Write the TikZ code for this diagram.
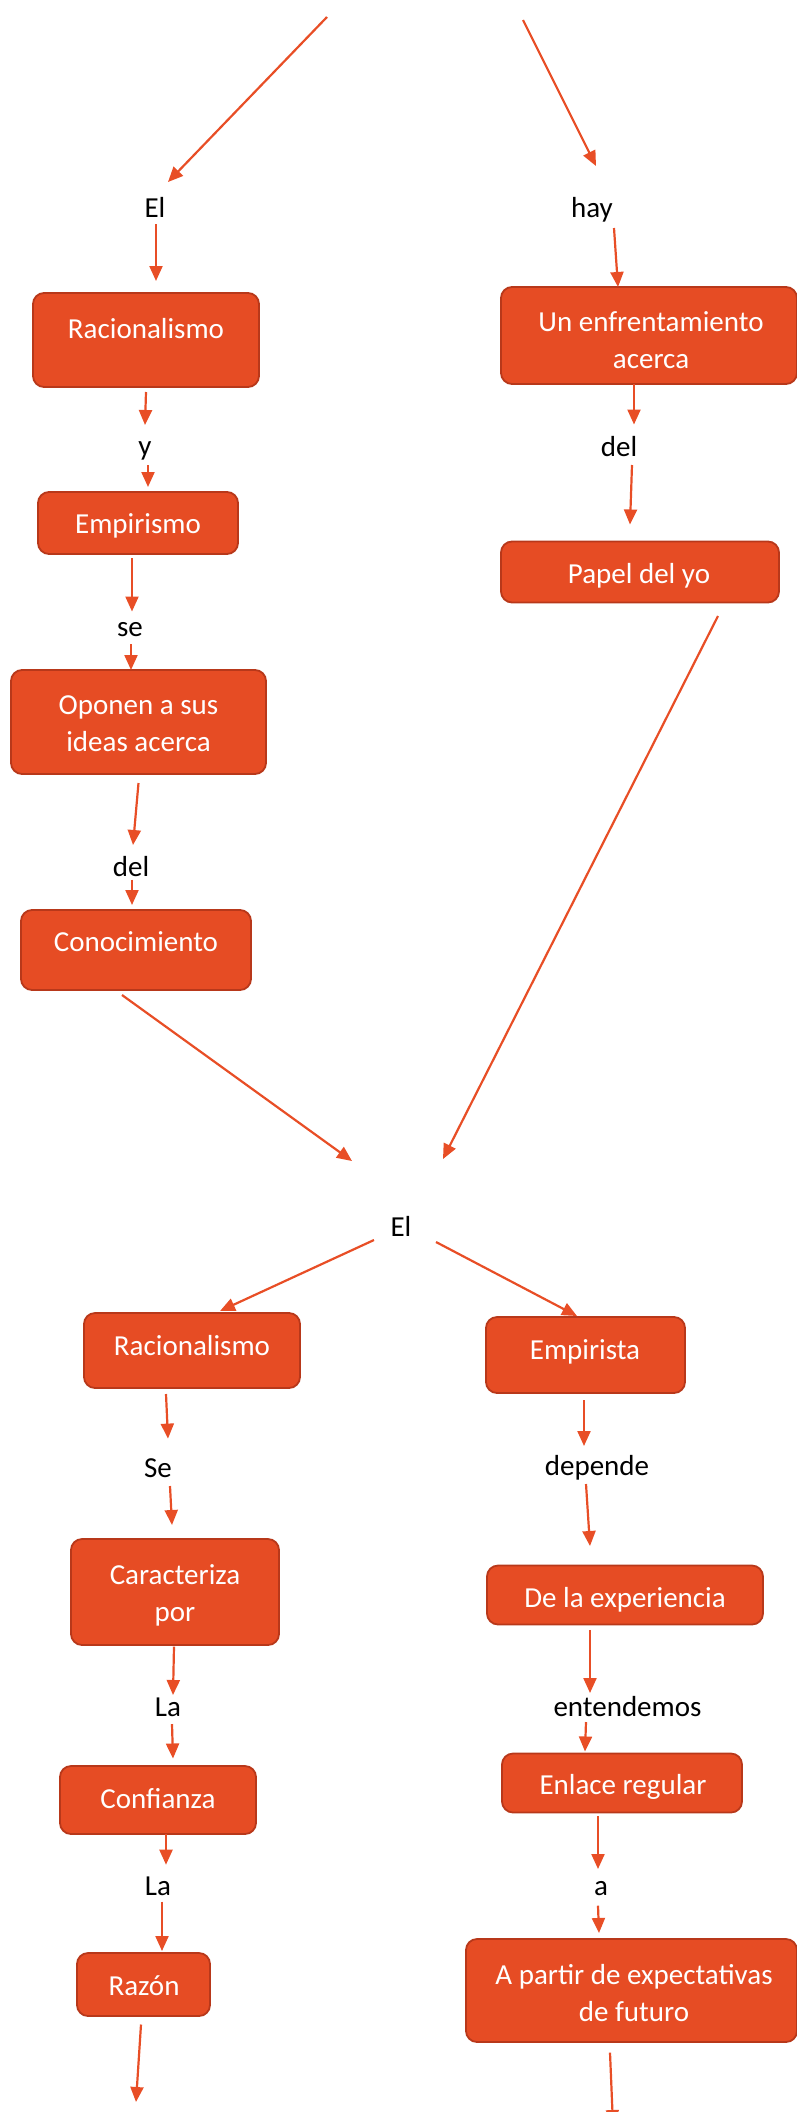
\documentclass[tikz,border=0pt]{standalone}
\usepackage{fontspec}
\setmainfont{Carlito}
\usetikzlibrary{arrows.meta}
\definecolor{boxfill}{RGB}{230,76,36}
\definecolor{boxline}{RGB}{184,56,26}
\definecolor{arrowc}{RGB}{232,78,38}
\newcommand\lblfont{\fontsize{29}{37}\selectfont}
\tikzset{
  box/.style={draw=boxline, fill=boxfill, line width=1.8pt, rounded corners=11pt, inner sep=0pt, outer sep=0pt},
  btext/.style={text=white, anchor=base, inner sep=0pt, font=\lblfont, align=center},
  lab/.style={text=black, anchor=base, inner sep=0pt, font=\lblfont},
  arr/.style={draw=arrowc, line width=2.2pt, -{Triangle[length=15pt,width=13pt]}}
}
\begin{document}
\begin{tikzpicture}[x=1pt,y=-1pt]
\useasboundingbox (0,0) rectangle (797,2112);
% free ends
\coordinate (tl) at (327,17);
\coordinate (tr) at (523,20);
\coordinate (bl) at (136,2102);
\coordinate (br) at (613,2125);
% boxes
\node[box, minimum width=226pt, minimum height=94pt] (rac1) at (146,340) {};
\node[box, minimum width=296pt, minimum height=97pt] (enf) at (649,335.5) {};
\node[box, minimum width=200pt, minimum height=62pt] (emp) at (138,523) {};
\node[box, minimum width=278pt, minimum height=61pt] (papel) at (640,572) {};
\node[box, minimum width=255pt, minimum height=104pt] (opo) at (138.5,722) {};
\node[box, minimum width=230pt, minimum height=80pt] (cono) at (136,950) {};
\node[box, minimum width=216pt, minimum height=75pt] (rac2) at (192,1350.5) {};
\node[box, minimum width=199pt, minimum height=76pt] (empi) at (585.5,1355) {};
\node[box, minimum width=208pt, minimum height=106pt] (car) at (175,1592) {};
\node[box, minimum width=276pt, minimum height=59pt] (exp) at (625,1595) {};
\node[box, minimum width=196pt, minimum height=68pt] (conf) at (158,1800) {};
\node[box, minimum width=240pt, minimum height=59pt] (enl) at (622,1783) {};
\node[box, minimum width=133pt, minimum height=63pt] (raz) at (143.5,1984.5) {};
\node[box, minimum width=331pt, minimum height=103pt] (apar) at (631.5,1990.5) {};
% box texts (base = last line)
\node[btext] (rac1t) at (146,338) {Racionalismo};
\node[btext] (enft) at (651,368) {Un enfrentamiento\\acerca};
\node[btext] (empt) at (138,533) {Empirismo};
\node[btext] (papelt) at (639,583) {Papel del yo};
\node[btext] (opot) at (138.5,751) {Oponen a sus\\ideas acerca};
\node[btext] (conot) at (136,951.6) {Conocimiento};
\node[btext] (rac2t) at (192,1355) {Racionalismo};
\node[btext] (empit) at (585,1359) {Empirista};
\node[btext] (cart) at (175,1621) {Caracteriza\\por};
\node[btext] (expt) at (625,1607.5) {De la experiencia};
\node[btext] (conft) at (158,1808) {Confianza};
\node[btext] (enlt) at (623,1794) {Enlace regular};
\node[btext] (razt) at (144,1995) {Razón};
\node[btext] (apart) at (634,2021) {A partir de expectativas\\de futuro};
% labels
\node[lab] (el1) at (155,217) {El};
\node[lab] (hay) at (592,217) {hay};
\node[lab] (y) at (145,455) {y};
\node[lab] (del2) at (619,456) {del};
\node[lab] (se) at (130,636.5) {se};
\node[lab] (del1) at (131,876.5) {del};
\node[lab] (el2) at (401,1236) {El};
\node[lab] (se2) at (158,1477) {Se};
\node[lab] (dep) at (597,1475) {depende};
\node[lab] (la1) at (168,1716) {La};
\node[lab] (ent) at (627.5,1716) {entendemos};
\node[lab] (la2) at (158,1895.7) {La};
\node[lab] (a) at (601,1895.7) {a};
% connectors
\draw[arr] (tl) -- ([shift={(13,-35)}]el1.base);
\draw[arr] (tr) -- ([shift={(4,-51)}]hay.base);
\draw[arr] ([shift={(1,7)}]el1.base) -- ([shift={(10,-12)}]rac1.north);
\draw[arr] ([shift={(22,11)}]hay.base) -- ([shift={(-31,0)}]enf.north);
\draw[arr] ([shift={(0,5)}]rac1.south) -- ([shift={(0,-30)}]y.base);
\draw[arr] ([shift={(3,10)}]y.base) -- ([shift={(10,-5)}]emp.north);
\draw[arr] ([shift={(-6,4)}]emp.south) -- ([shift={(2,-25)}]se.base);
\draw[arr] ([shift={(1,7.5)}]se.base) -- ([shift={(-7.5,0)}]opo.north);
\draw[arr] ([shift={(0,9)}]opo.south) -- ([shift={(2,-31.5)}]del1.base);
\draw[arr] ([shift={(1,3)}]del1.base) -- ([shift={(-4,-5)}]cono.north);
\draw[arr] ([shift={(-14,5)}]cono.south) -- ([shift={(-49,-75)}]el2.base);
\draw[arr] ([shift={(-15,0)}]enf.south) -- ([shift={(15,-31.5)}]del2.base);
\draw[arr] ([shift={(13,9)}]del2.base) -- ([shift={(-10,-17)}]papel.north);
\draw[arr] ([shift={(78,13.5)}]papel.south) -- ([shift={(42,-77)}]el2.base);
\draw[arr] ([shift={(-27,4)}]el2.base) -- ([shift={(28,-2)}]rac2.north);
\draw[arr] ([shift={(35,6)}]el2.base) -- ([shift={(-8.5,-1)}]empi.north);
\draw[arr] ([shift={(-26,6)}]rac2.south) -- ([shift={(10,-38.4)}]se2.base);
\draw[arr] ([shift={(12,9)}]se2.base) -- ([shift={(-3,-14)}]car.north);
\draw[arr] ([shift={(-1,1.5)}]car.south) -- ([shift={(5,-21)}]la1.base);
\draw[arr] ([shift={(4,8)}]la1.base) -- ([shift={(15,-7.5)}]conf.north);
\draw[arr] ([shift={(8,0)}]conf.south) -- ([shift={(8,-31)}]la2.base);
\draw[arr] ([shift={(4,6)}]la2.base) -- ([shift={(18.5,-2)}]raz.north);
\draw[arr] ([shift={(-2.5,8.5)}]raz.south) -- (bl);
\draw[arr] ([shift={(-1.5,7)}]empi.south) -- ([shift={(-13,-29)}]dep.base);
\draw[arr] ([shift={(-11,9)}]dep.base) -- ([shift={(-35,-19.5)}]exp.north);
\draw[arr] ([shift={(-35,5.4)}]exp.south) -- ([shift={(-37.5,-23)}]ent.base);
\draw[arr] ([shift={(-41.5,6)}]ent.base) -- ([shift={(-37,-2)}]enl.north);
\draw[arr] ([shift={(-24,3.5)}]enl.south) -- ([shift={(-3,-26.7)}]a.base);
\draw[arr] ([shift={(-3,10)}]a.base) -- ([shift={(-32.5,-6)}]apar.north);
\draw[arr] ([shift={(-21.5,10.6)}]apar.south) -- (br);
\end{tikzpicture}
\end{document}
